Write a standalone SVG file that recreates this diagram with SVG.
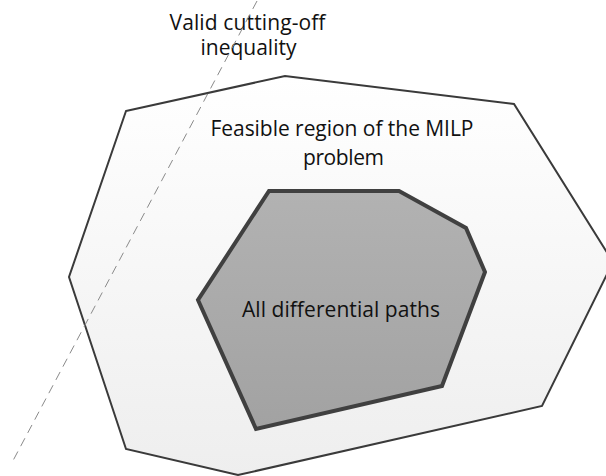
<svg xmlns="http://www.w3.org/2000/svg" width="606" height="476" viewBox="0 0 606 476">
  <style>
    .lbl { font-family: "Open Sans", "Liberation Sans", sans-serif; font-size: 21px; fill: #111111; text-anchor: middle; }
    .outer { fill: url(#gOuter); stroke: #3a3a3a; stroke-width: 2; stroke-linejoin: miter; }
    .inner { fill: url(#gInner); stroke: #404040; stroke-width: 4; stroke-linejoin: miter; }
    .cut { fill: none; stroke: #8a8a8a; stroke-width: 1; stroke-dasharray: 9 6; }
  </style>
  <defs>
    <linearGradient id="gOuter" x1="0" y1="0" x2="0" y2="1">
      <stop offset="0" stop-color="#ffffff"/>
      <stop offset="1" stop-color="#eeeeee"/>
    </linearGradient>
    <linearGradient id="gInner" x1="0" y1="0" x2="0" y2="1">
      <stop offset="0" stop-color="#b2b2b2"/>
      <stop offset="1" stop-color="#a2a2a2"/>
    </linearGradient>
  </defs>
  <rect x="0" y="0" width="606" height="476" fill="#ffffff"/>
  <g id="outer-region">
    <polygon class="outer" points="126,111 285,76 514,104 613,262 542,406 238,475 126,449 69,277"/>
    <text class="lbl" x="342" y="136" textLength="263">Feasible region of the MILP</text>
    <text class="lbl" x="343.5" y="165" textLength="81">problem</text>
  </g>
  <g id="inner-region">
    <polygon class="inner" points="269,191 399,191 466,228 485,272 442,386 256,429 198,300"/>
    <text class="lbl" x="341" y="316.5" textLength="198">All differential paths</text>
  </g>
  <g id="cut-inequality">
    <text class="lbl" x="247.5" y="29.5" textLength="156">Valid cutting-off</text>
    <text class="lbl" x="248.5" y="55" textLength="96">inequality</text>
  </g>
  <g id="connectors">
    <line class="cut" x1="257" y1="1" x2="11.5" y2="463.5"/>
  </g>
</svg>
